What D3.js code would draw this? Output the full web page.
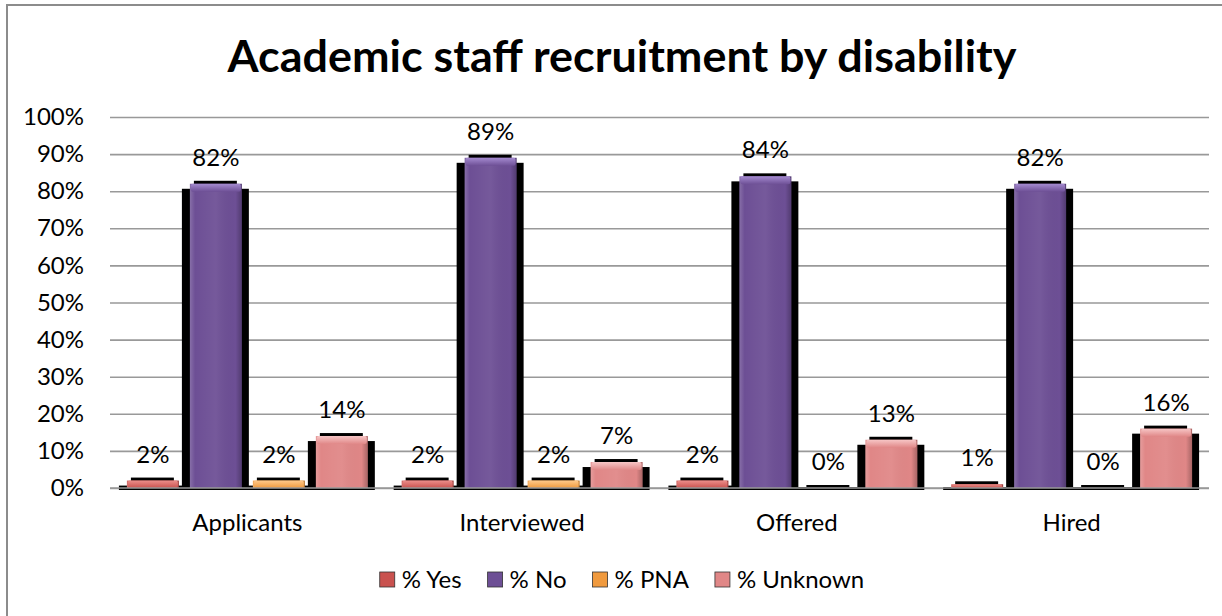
<!DOCTYPE html>
<html><head><meta charset="utf-8">
<script src="https://cdn.jsdelivr.net/npm/d3@7"></script>
<style>
body{margin:0;background:#fff;}
svg{display:block;font-family:Lato,"Open Sans",sans-serif;}
</style>
</head><body>
<svg id="chart" width="1222" height="616"></svg>
<script>
const chartTitle = "Academic staff recruitment by disability";
const categories = ["Applicants", "Interviewed", "Offered", "Hired"];
const seriesNames = ["% Yes", "% No", "% PNA", "% Unknown"];
const yesValues = [2, 2, 2, 1];
const noValues = [82, 89, 84, 82];
const pnaValues = [2, 2, 0, 0];
const unknownValues = [14, 7, 13, 16];
const yTicks = [0, 10, 20, 30, 40, 50, 60, 70, 80, 90, 100];
const seriesColors = ["#c9524f", "#6d4f95", "#f09a3e", "#e08787"];
const seriesLight = ["#ec8e8a", "#a58bd0", "#ffc98a", "#f7c6c6"];

const seriesValues = [yesValues, noValues, pnaValues, unknownValues];
const rows = [];
categories.forEach((c, i) => {
  seriesNames.forEach((s, j) => rows.push({cat: c, series: s, si: j, value: seriesValues[j][i]}));
});

const svg = d3.select("#chart");
const plotLeft = 110, plotRight = 1209, plotTop = 117, plotBottom = 488;

const x0 = d3.scaleBand().domain(categories).range([plotLeft, plotRight]).paddingInner(0.083).paddingOuter(0.0415);
const x1 = d3.scaleBand().domain(seriesNames).range([0, x0.bandwidth()]).paddingInner(0.175).paddingOuter(0.0875);
const y = d3.scaleLinear().domain([0, 100]).range([plotBottom, plotTop]);

// gradients
const defs = svg.append("defs");
seriesNames.forEach((s, j) => {
  const g = defs.append("linearGradient").attr("id", "top" + j).attr("x1", 0).attr("y1", 0).attr("x2", 0).attr("y2", 1);
  g.append("stop").attr("offset", "0%").attr("stop-color", seriesLight[j]);
  g.append("stop").attr("offset", "100%").attr("stop-color", seriesColors[j]);
});
const hg = defs.append("linearGradient").attr("id", "edge").attr("x1", 0).attr("y1", 0).attr("x2", 1).attr("y2", 0);
[["0%", "#ffffff", 0.18], ["10%", "#ffffff", 0.0], ["50%", "#ffffff", 0.06], ["88%", "#000000", 0.0], ["100%", "#000000", 0.25]]
  .forEach(([o, c, a]) => hg.append("stop").attr("offset", o).attr("stop-color", c).attr("stop-opacity", a));

// border (left + top only visible)
svg.append("path").attr("d", "M7,616 L7,5 L1222,5").attr("fill", "none").attr("stroke", "#8c8c8c").attr("stroke-width", 2);

// title
svg.append("text").attr("x", 622).attr("y", 72).attr("text-anchor", "middle")
  .attr("font-size", 43).attr("font-weight", "bold").attr("fill", "#000")
  .attr("textLength", 789).attr("lengthAdjust", "spacingAndGlyphs").text(chartTitle);

// y axis with gridlines
const yAxis = svg.append("g").attr("transform", `translate(${plotLeft},0)`)
  .call(d3.axisLeft(y).tickValues(yTicks).tickFormat(d => d + "%").tickSizeInner(-(plotRight - plotLeft)).tickSizeOuter(0).tickPadding(26));
yAxis.select(".domain").remove();
yAxis.selectAll(".tick line").attr("stroke", "#999").attr("stroke-width", 1.6);
yAxis.selectAll(".tick text").attr("font-size", 24).attr("fill", "#000").attr("font-family", "Lato");

// bars
const barG = svg.append("g");
const bars = barG.selectAll("g.bar").data(rows).join("g").attr("class", "bar")
  .attr("transform", d => `translate(${x0(d.cat) + x1(d.series)},0)`);
const w = x1.bandwidth();
// shadow
bars.append("rect").attr("x", -8).attr("width", w + 15)
  .attr("y", d => Math.min(y(d.value) + 5, plotBottom - 1))
  .attr("height", d => plotBottom + 2 - Math.min(y(d.value) + 5, plotBottom - 1))
  .attr("fill", "#000");
bars.append("rect").attr("x", 4).attr("width", w - 9)
  .attr("y", d => y(d.value) - 3).attr("height", d => plotBottom + 2 - (y(d.value) - 3))
  .attr("fill", "#000");
// face
bars.append("rect").attr("x", 0).attr("width", w)
  .attr("y", d => y(d.value)).attr("height", d => plotBottom - y(d.value))
  .attr("fill", d => seriesColors[d.si]);
bars.append("rect").attr("x", 0).attr("width", w)
  .attr("y", d => y(d.value)).attr("height", d => plotBottom - y(d.value))
  .attr("fill", "url(#edge)");
bars.append("rect").attr("x", 1).attr("width", w - 2)
  .attr("y", d => y(d.value)).attr("height", d => Math.min(8, plotBottom - y(d.value)))
  .attr("rx", 2)
  .attr("fill", d => `url(#top${d.si})`);

// baseline
svg.append("line").attr("x1", plotLeft).attr("x2", plotRight).attr("y1", plotBottom).attr("y2", plotBottom)
  .attr("stroke", "#999").attr("stroke-width", 1.6);

// data labels
barG.selectAll("text.lbl").data(rows).join("text").attr("class", "lbl")
  .attr("x", d => x0(d.cat) + x1(d.series) + w / 2)
  .attr("y", d => y(d.value) - 18)
  .attr("text-anchor", "middle").attr("font-size", 24).attr("fill", "#000")
  .text(d => d.value + "%");

// x axis
const xAxis = svg.append("g").attr("transform", `translate(0,${plotBottom})`)
  .call(d3.axisBottom(x0).tickSize(0).tickPadding(26));
xAxis.select(".domain").remove();
xAxis.selectAll(".tick text").attr("font-size", 24).attr("fill", "#000").attr("font-family", "Lato");

// legend
const legend = svg.append("g");
const items = legend.selectAll("g").data(seriesNames).join("g");
items.append("rect").attr("width", 15).attr("height", 15).attr("y", 572)
  .attr("fill", (d, j) => seriesColors[j]).attr("stroke", "#333").attr("stroke-width", 0.8);
items.append("text").attr("x", 22).attr("y", 588).attr("font-size", 24).attr("fill", "#000").text(d => d);
let widths = [];
items.each(function () { widths.push(22 + d3.select(this).select("text").node().getComputedTextLength()); });
const gap = 26;
const total = d3.sum(widths) + gap * (widths.length - 1);
let cx = 622 - total / 2;
items.attr("transform", (d, j) => { const t = `translate(${cx},0)`; cx += widths[j] + gap; return t; });
</script>
</body></html>
